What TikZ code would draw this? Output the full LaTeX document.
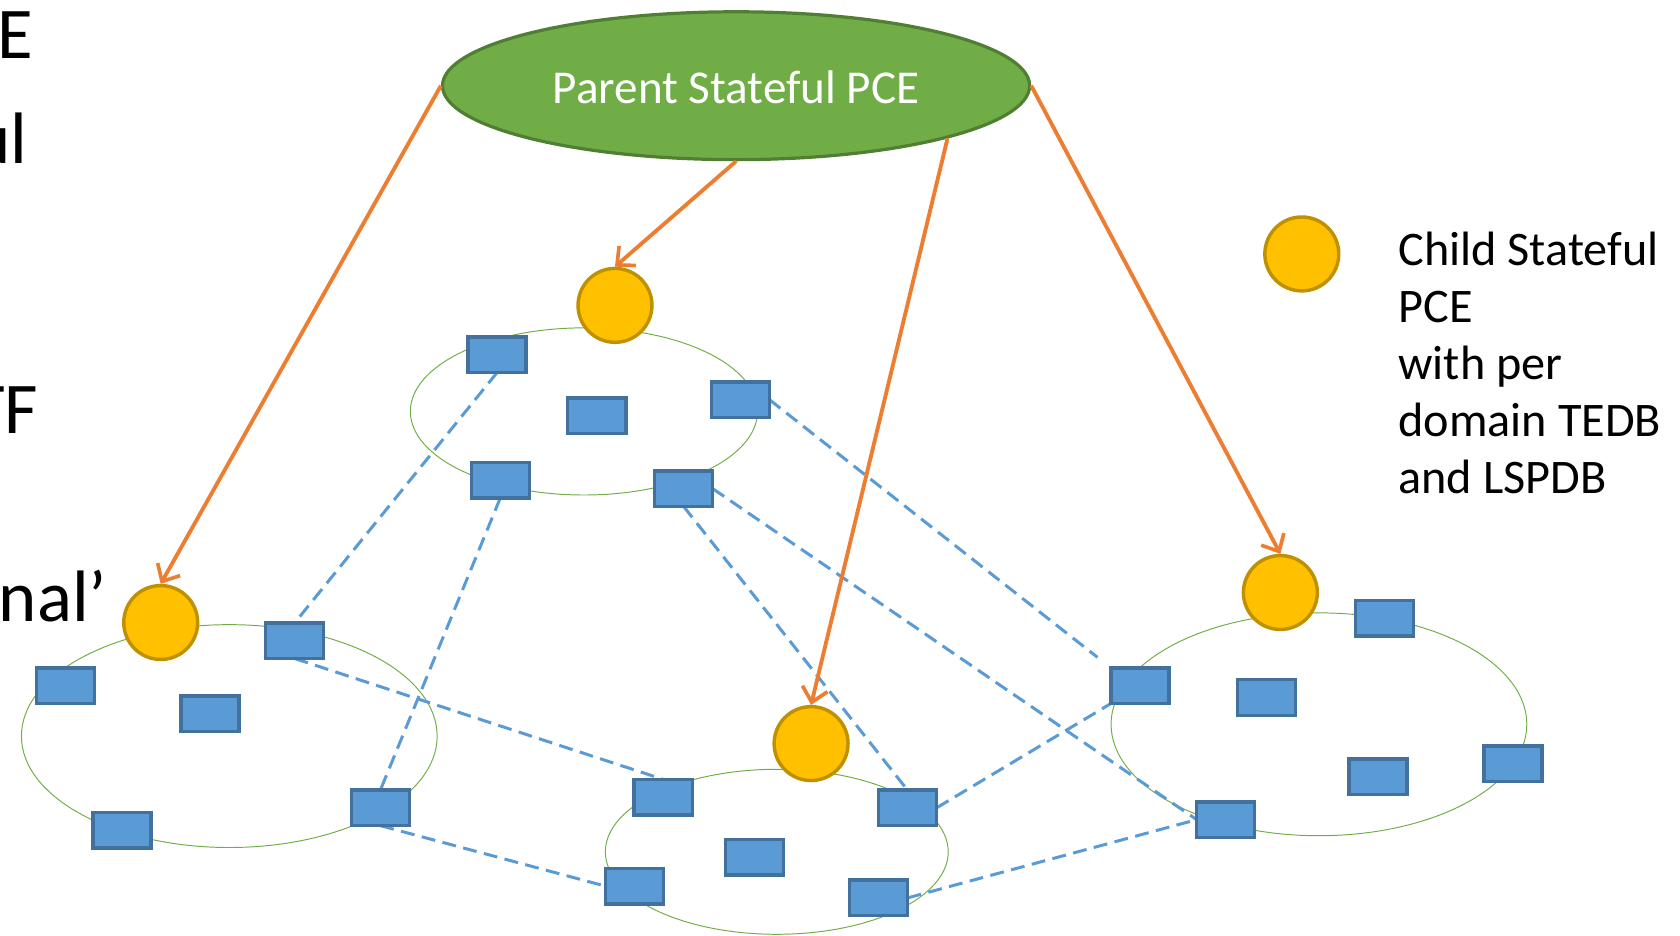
\documentclass[tikz,border=0pt]{standalone}
\usepackage{fontspec}
\setmainfont{Carlito}
\usetikzlibrary{arrows.meta,shapes.geometric}
\definecolor{pgreen}{HTML}{70AD47}
\definecolor{pgreenD}{HTML}{507E32}
\definecolor{pyel}{HTML}{FFC000}
\definecolor{pyelD}{HTML}{BF9000}
\definecolor{pblue}{HTML}{5B9BD5}
\definecolor{pblueD}{HTML}{41719C}
\definecolor{porange}{HTML}{ED7D31}
\begin{document}
\begin{tikzpicture}[x=1pt,y=-1pt,
  parentbox/.style={ellipse,draw=pgreenD,fill=pgreen,line width=3pt,minimum width=548pt,minimum height=138pt,inner sep=0pt},
  ptext/.style={text=white,inner sep=0pt,font=\fontsize{44}{53}\selectfont},
  pce/.style={circle,draw=pyelD,fill=pyel,line width=3.2pt,minimum size=69pt,inner sep=0pt},
  router/.style={rectangle,draw=pblueD,fill=pblue,line width=3.2pt,minimum width=51pt,minimum height=30pt,inner sep=0pt},
  domring/.style={draw=pgreen,line width=0.9pt},
  link/.style={draw=pblue,line width=2.8pt,dash pattern=on 13pt off 7pt},
  ctrl/.style={draw=porange,line width=3.6pt,-{Straight Barb[length=13pt,width=24pt,line width=3.4pt]}},
  legtext/.style={inner sep=0pt,align=left,font=\fontsize{45}{53.3}\selectfont},
  frag/.style={inner sep=0pt,font=\fontsize{68}{80}\selectfont},
]
\useasboundingbox (0,0) rectangle (1568,873);

% cut-off slide text on the left
\node[frag,anchor=base east] (f1) at (31,55) {E};
\node[frag,anchor=base east] (f2) at (26,153) {ul};
\node[frag,anchor=base east] (f3) at (36,405) {TF};
\node[frag,anchor=base east] (f4) at (100,580) {nal’};

% domains
\draw[domring] (545,384) ellipse [x radius=162, y radius=78];
\draw[domring] (214,687) ellipse [x radius=194, y radius=104];
\draw[domring] (725,795) ellipse [x radius=160, y radius=77];
\draw[domring] (1231,676) ellipse [x radius=194, y radius=104];

% routers
\node[router] (r1) at (464,331) {};
\node[router] (r2) at (557,388) {};
\node[router] (r3) at (691,373) {};
\node[router] (r4) at (467,448) {};
\node[router] (r5) at (638,456) {};
\node[router] (l1) at (275,598) {};
\node[router] (l2) at (61,640) {};
\node[router] (l3) at (196,666) {};
\node[router] (l4) at (114,775) {};
\node[router] (l5) at (355,754) {};
\node[router] (m1) at (619,744) {};
\node[router] (m2) at (704,800) {};
\node[router] (m3) at (847,754) {};
\node[router] (m4) at (592,827) {};
\node[router] (m5) at (820,838) {};
\node[router] (q1) at (1292,577) {};
\node[router] (q2) at (1064,640) {};
\node[router] (q3) at (1182,651) {};
\node[router] (q4) at (1286,725) {};
\node[router] (q5) at (1412,713) {};
\node[router] (q6) at (1144,765) {};

% inter-domain links
\draw[link] (r1.south) -- (l1.north);
\draw[link] (r4.south) -- (l5.north);
\draw[link,shorten >=16pt] (r3.east) -- (q2.north west);
\draw[link] (r5.south) -- (m3.north);
\draw[link] (r5.east) -- (q6.west);
\draw[link] (l1.south) -- (m1.north);
\draw[link] (l5.south) -- (m4.west);
\draw[link] (m3.east) -- (q2.south west);
\draw[link] (m5.east) -- (q6.west);

% redraw routers over links
\foreach \n in {r1,r2,r3,r4,r5,l1,l2,l3,l4,l5,m1,m2,m3,m4,m5,q1,q2,q3,q4,q5,q6}
  \draw[draw=pblueD,fill=pblue,line width=3.2pt] (\n.south west) rectangle (\n.north east);

% child PCEs
\node[pce] (c1) at (574,285) {};
\node[pce] (c2) at (150,581) {};
\node[pce] (c3) at (757,694) {};
\node[pce] (c4) at (1195,553) {};

% parent PCE
\node[parentbox] (parent) at (687,80) {};
\node[ptext,anchor=base] (ptxt) at (687,97) {Parent Stateful PCE};

% control arrows
\draw[ctrl] (parent.west) -- (c2.north);
\draw[ctrl] (parent.south) -- (c1.north);
\draw[ctrl] (parent.-14.5) -- (c3.north);
\draw[ctrl] (parent.east) -- (c4.north);

% legend
\node[pce] (leg) at (1215,237) {};
\node[legtext,anchor=base west] (legt) at (1305,461) {Child Stateful\\PCE\\with per\\domain TEDB\\and LSPDB};
\end{tikzpicture}
\end{document}
